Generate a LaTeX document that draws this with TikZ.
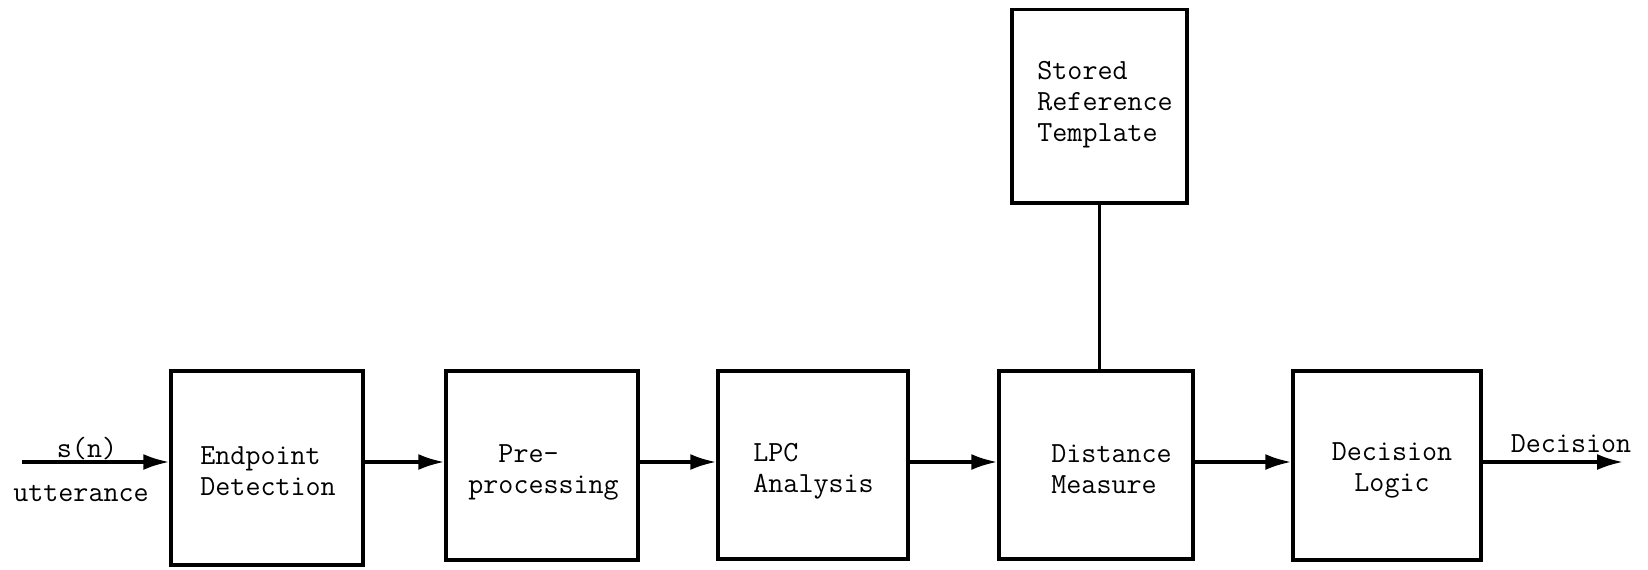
\documentclass[tikz,border=0pt]{standalone}
\usepackage{fontspec}
\usetikzlibrary{arrows.meta}
\begin{document}
\begin{tikzpicture}[x=0.5pt,y=-0.5pt,
  block/.style={draw, line width=1.75pt, inner sep=0pt, anchor=center},
  lbl/.style={font=\ttfamily\fontsize{14.6}{15.5}\selectfont, inner sep=0pt, align=left},
  flow/.style={line width=1.6pt, -{Latex[length=13pt,width=8pt]}},
  link/.style={line width=1.6pt}]
\useasboundingbox (0,0) rectangle (1648,569);

% processing blocks
\node[block, minimum width=96pt,   minimum height=97pt]   (ep) at (267,468)   {};
\node[block, minimum width=96pt,   minimum height=94.5pt] (pp) at (542,465.5) {};
\node[block, minimum width=95pt,   minimum height=94pt]   (lp) at (813,465)   {};
\node[block, minimum width=97pt,   minimum height=94pt]   (dm) at (1096,465)  {};
\node[block, minimum width=94pt,   minimum height=94.5pt] (dl) at (1387,465.5) {};
\node[block, minimum width=87.5pt, minimum height=96.75pt] (st) at (1099.5,106) {};

% block texts
\node[lbl, anchor=west] (ep-t) at (200,471) {Endpoint\\Detection};
\node[lbl, anchor=west] (pp-t) at (468,472) {\hphantom{pr}Pre-\\processing};
\node[lbl, anchor=west] (lp-t) at (753,471) {LPC\\Analysis};
\node[lbl, anchor=west] (dm-t) at (1051,469) {Distance\\Measure};
\node[lbl, align=center] (dl-t) at (1392,470) {Decision\\Logic};
\node[lbl, anchor=west] (st-t) at (1037,105) {Stored\\Reference\\Template};

% signal path
\coordinate (in)  at (22,462);
\coordinate (out) at (1623,462);
\draw[flow] (in) -- (ep.west |- in);
\draw[flow] (ep.east |- in) -- (pp.west |- in);
\draw[flow] (pp.east |- in) -- (lp.west |- in);
\draw[flow] (lp.east |- in) -- (dm.west |- in);
\draw[flow] (dm.east |- in) -- (dl.west |- in);
\draw[flow] (dl.east |- in) -- (out);
\draw[link] (st.south) -- (st.south |- dm.north);

% signal labels
\node[lbl] (sn)  at (87,449)   {s(n)};
\node[lbl] (utt) at (81,493)   {utterance};
\node[lbl] (dec) at (1571,444) {Decision};
\end{tikzpicture}
\end{document}
